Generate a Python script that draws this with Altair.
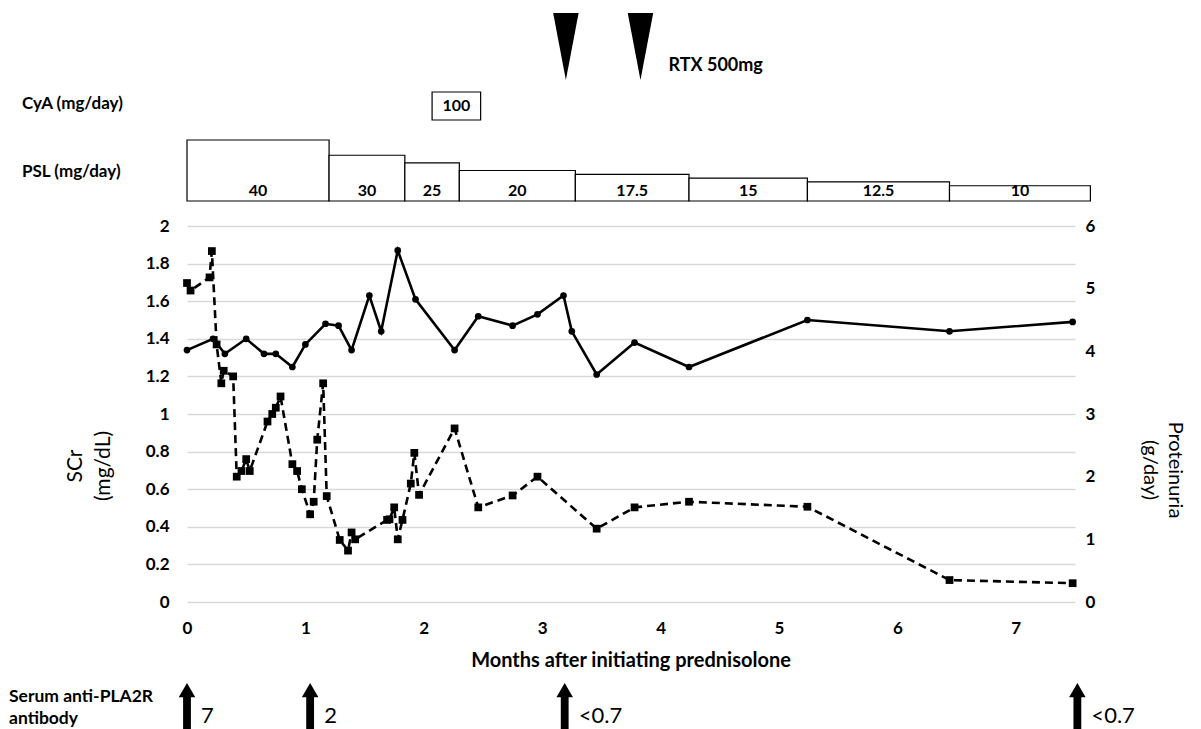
import altair as alt
import pandas as pd

# ---------------- data ----------------
scr_month = [0.00, 0.22, 0.32, 0.50, 0.65, 0.75, 0.89, 1.00, 1.17, 1.28, 1.39, 1.54, 1.64, 1.78,
             1.93, 2.26, 2.46, 2.75, 2.96, 3.18, 3.25, 3.46, 3.78, 4.24, 5.24, 6.44, 7.48]
scr_value = [1.34, 1.40, 1.32, 1.40, 1.32, 1.32, 1.25, 1.37, 1.48, 1.47, 1.34, 1.63, 1.44, 1.87,
             1.61, 1.34, 1.52, 1.47, 1.53, 1.63, 1.44, 1.21, 1.38, 1.25, 1.50, 1.44, 1.49]

prot_month = [0.00, 0.03, 0.19, 0.21, 0.25, 0.29, 0.31, 0.39, 0.42, 0.46, 0.50, 0.53, 0.68, 0.72,
              0.75, 0.79, 0.89, 0.93, 0.97, 1.04, 1.07, 1.10, 1.15, 1.18, 1.29, 1.36, 1.39, 1.42,
              1.69, 1.71, 1.75, 1.78, 1.82, 1.89, 1.92, 1.96, 2.26, 2.46, 2.75, 2.96, 3.46, 3.78,
              4.24, 5.24, 6.44, 7.48]
prot_value = [5.09, 4.97, 5.18, 5.60, 4.11, 3.49, 3.69, 3.60, 2.00, 2.09, 2.28, 2.09, 2.88, 3.00,
              3.10, 3.28, 2.20, 2.09, 1.80, 1.40, 1.60, 2.59, 3.49, 1.69, 0.99, 0.82, 1.11, 1.00,
              1.31, 1.32, 1.51, 1.00, 1.31, 1.89, 2.38, 1.71, 2.77, 1.51, 1.70, 2.00, 1.17, 1.51,
              1.60, 1.52, 0.35, 0.30]

psl_start = [0.00, 1.20, 1.84, 2.30, 3.28, 4.24, 5.24, 6.44]
psl_end = [1.20, 1.84, 2.30, 3.28, 4.24, 5.24, 6.44, 7.63]
psl_dose = [40, 30, 25, 20, 17.5, 15, 12.5, 10]
psl_label = ["40", "30", "25", "20", "17.5", "15", "12.5", "10"]

cya_start = [2.07]
cya_end = [2.48]
cya_label = ["100"]

rtx_month = [3.20, 3.83]
rtx_label = ["RTX 500mg"]

ab_month = [0.00, 1.04, 3.19, 7.52]
ab_label = ["7", "2", "<0.7", "<0.7"]

x_ticks = [0, 1, 2, 3, 4, 5, 6, 7]
left_ticks = [0, 0.2, 0.4, 0.6, 0.8, 1, 1.2, 1.4, 1.6, 1.8, 2]
right_ticks = [0, 1, 2, 3, 4, 5, 6]

# ---------------- frames ----------------
scr_df = pd.DataFrame({"month": scr_month, "scr": scr_value})
prot_df = pd.DataFrame({"month": prot_month, "prot": prot_value})
psl_df = pd.DataFrame({"start": psl_start, "end": psl_end, "dose": psl_dose, "label": psl_label})
cya_df = pd.DataFrame({"start": cya_start, "end": cya_end, "label": cya_label})
rtx_df = pd.DataFrame({"month": rtx_month})
rtx_txt_df = pd.DataFrame({"month": [rtx_month[-1]], "label": rtx_label})
ab_df = pd.DataFrame({"month": ab_month, "label": ab_label})

FONT = "Lato"


def xs():
    return alt.Scale(domain=[0, 7.5], nice=False, zero=False)


def x_axis():
    return alt.Axis(values=x_ticks, title=None, grid=False, domain=False, ticks=False, tickSize=0,
                    labelFontSize=17, labelFontWeight="bold", labelPadding=18, labelFlush=False,
                    labelColor="black", labelFont=FONT)


def X(field):
    return alt.X(field, scale=xs(), axis=x_axis())


left_axis = alt.Axis(values=left_ticks, format=".2~f", title=None, orient="left", grid=True,
                     gridColor="#d9d9d9", gridWidth=1.6, domain=False, ticks=False, tickSize=0,
                     labelFontSize=17, labelFontWeight="bold", labelPadding=18,
                     labelColor="black", labelFont=FONT)

right_axis = alt.Axis(values=right_ticks, title=None, orient="right", grid=False, domain=False,
                      ticks=False, tickSize=0, labelFontSize=17, labelFontWeight="bold",
                      labelPadding=10, labelColor="black", labelFont=FONT)

# SCr (solid, circles)
scr_line = alt.Chart(scr_df).mark_line(color="black", strokeWidth=2.6).encode(
    x=X("month:Q"),
    y=alt.Y("scr:Q", scale=alt.Scale(domain=[0, 2], nice=False), axis=left_axis),
)
scr_pts = alt.Chart(scr_df).mark_point(shape="circle", filled=True, color="black", size=45,
                                       opacity=1).encode(
    x=X("month:Q"),
    y=alt.Y("scr:Q", scale=alt.Scale(domain=[0, 2], nice=False), axis=left_axis),
)
scr_layer = alt.layer(scr_line, scr_pts)

# Proteinuria (dashed, squares)
prot_line = alt.Chart(prot_df).mark_line(color="black", strokeWidth=2.6,
                                         strokeDash=[8, 5]).encode(
    x=X("month:Q"),
    y=alt.Y("prot:Q", scale=alt.Scale(domain=[0, 6], nice=False), axis=right_axis),
)
prot_pts = alt.Chart(prot_df).mark_point(shape="square", filled=True, color="black", size=60,
                                         opacity=1).encode(
    x=X("month:Q"),
    y=alt.Y("prot:Q", scale=alt.Scale(domain=[0, 6], nice=False), axis=right_axis),
)
prot_layer = alt.layer(prot_line, prot_pts)

# PSL dosage boxes (height proportional to dose)
psl_rect = alt.Chart(psl_df).mark_rect(fill="white", stroke="black", strokeWidth=1.2).encode(
    x=X("start:Q"),
    x2="end:Q",
    y=alt.Y("dose:Q", scale=alt.Scale(domain=[0, 40], range=[-25, -86]), axis=None),
    y2=alt.value(-25),
)
psl_text = alt.Chart(psl_df).transform_calculate(mid="(datum.start + datum.end) / 2").mark_text(
    font=FONT, fontSize=16, fontWeight="bold", color="black", baseline="middle").encode(
    x=X("mid:Q"),
    y=alt.value(-35),
    text="label:N",
)

# CyA box
cya_rect = alt.Chart(cya_df).mark_rect(fill="white", stroke="black", strokeWidth=1.2).encode(
    x=X("start:Q"),
    x2="end:Q",
    y=alt.value(-134),
    y2=alt.value(-106),
)
cya_text = alt.Chart(cya_df).transform_calculate(mid="(datum.start + datum.end) / 2").mark_text(
    font=FONT, fontSize=16, fontWeight="bold", color="black", baseline="middle").encode(
    x=X("mid:Q"),
    y=alt.value(-120),
    text="label:N",
)

# RTX triangles
TRI = "M-0.38,-1L0.38,-1L0,1Z"
rtx_pts = alt.Chart(rtx_df).mark_point(shape=TRI, filled=True, color="black", opacity=1,
                                       size=4489).encode(
    x=X("month:Q"),
    y=alt.value(-179.5),
)
rtx_text = alt.Chart(rtx_txt_df).mark_text(font=FONT, fontSize=18, fontWeight="bold",
                                            color="black", align="left", baseline="middle",
                                            dx=28).encode(
    x=X("month:Q"),
    y=alt.value(-160),
    text="label:N",
)

# anti-PLA2R arrows
ARROW = "M0,-1L0.36,-0.38L0.17,-0.38L0.17,1L-0.17,1L-0.17,-0.38L-0.36,-0.38Z"
ab_pts = alt.Chart(ab_df).mark_point(shape=ARROW, filled=True, color="black", opacity=1,
                                     size=2116).encode(
    x=X("month:Q"),
    y=alt.value(480),
)
ab_text = alt.Chart(ab_df).mark_text(font=FONT, fontSize=22, color="black", align="left",
                                     baseline="middle", dx=14).encode(
    x=X("month:Q"),
    y=alt.value(490),
    text="label:N",
)


def label(txt, x, y, size=17, weight="bold", align="left", angle=0, line_height=None):
    kw = dict(font=FONT, fontSize=size, fontWeight=weight, color="black", align=align,
              baseline="middle", angle=angle, lineBreak="\n")
    if line_height is not None:
        kw["lineHeight"] = line_height
    return alt.Chart(pd.DataFrame({"t": [txt]})).mark_text(**kw).encode(
        x=alt.value(x), y=alt.value(y), text="t:N")


labels = [
    label("CyA (mg/day)", -165, -122),
    label("PSL (mg/day)", -165, -54),
    label("Serum anti-PLA2R\nantibody", -178, 471, size=17.5, line_height=22),
    label("Months after initiating prednisolone", 444, 435, size=20, align="center"),
    label("SCr\n(mg/dL)", -111, 240, size=21, weight="normal", align="center", angle=270,
          line_height=28),
    label("Proteinuria\n(g/day)", 988, 244, size=20, weight="normal", align="center", angle=90,
          line_height=25),
]

chart = alt.layer(
    scr_layer, prot_layer, psl_rect, psl_text, cya_rect, cya_text, rtx_pts, rtx_text,
    ab_pts, ab_text, *labels
).resolve_scale(y="independent").properties(
    width=888, height=376,
    padding={"left": 179, "top": 218, "right": 117, "bottom": 127},
    autosize=alt.AutoSizeParams(type="none"),
).configure(font=FONT).configure_view(stroke=None)

chart.save("out.html", embed_options={"renderer": "svg", "actions": False})
